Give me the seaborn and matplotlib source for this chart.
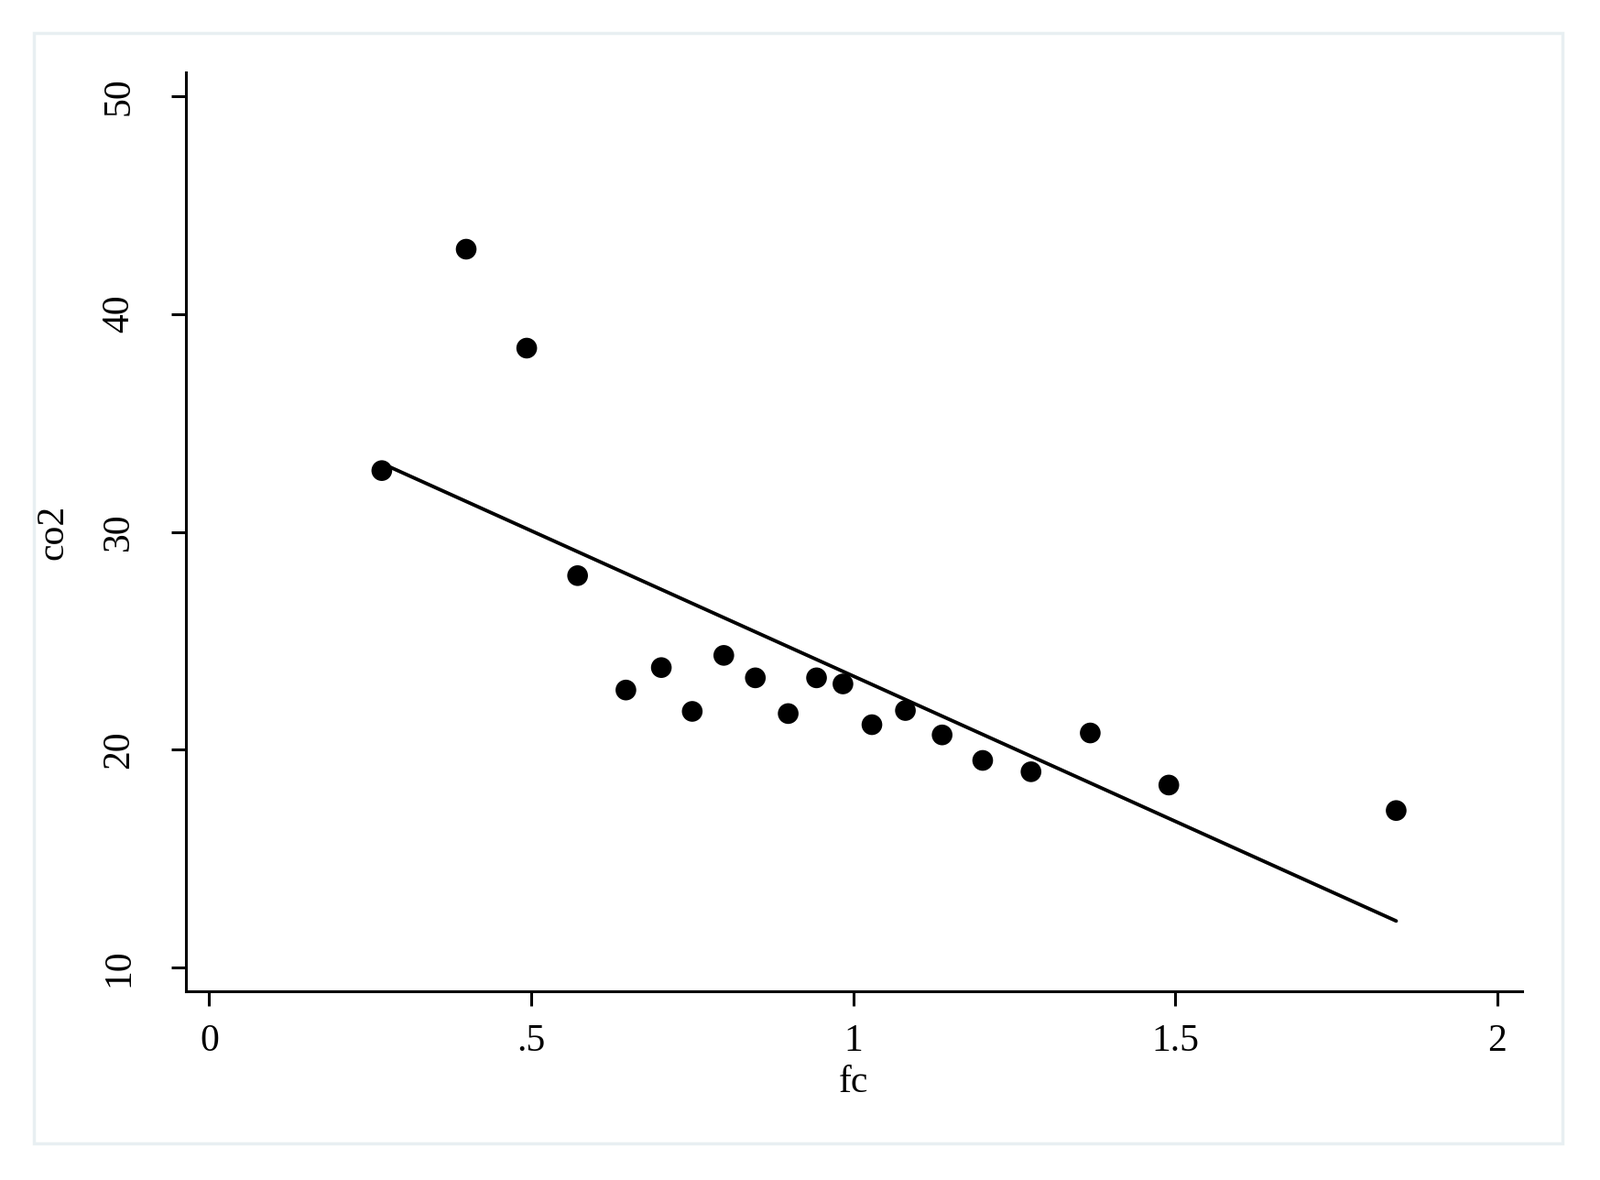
import matplotlib
matplotlib.use("Agg")
import matplotlib.pyplot as plt
import seaborn as sns
import pandas as pd
from matplotlib.patches import Rectangle

# values
fc = [0.268, 0.399, 0.493, 0.572, 0.647, 0.702, 0.750, 0.799, 0.848, 0.899,
      0.943, 0.984, 1.029, 1.081, 1.138, 1.201, 1.276, 1.368, 1.490, 1.843]
co2 = [32.81, 42.97, 38.43, 27.99, 22.74, 23.77, 21.76, 24.33, 23.30, 21.66,
       23.30, 23.02, 21.15, 21.80, 20.68, 19.51, 18.99, 20.77, 18.38, 17.21]

x_ticks = [0, 0.5, 1, 1.5, 2]
x_labels = ["0", ".5", "1", "1.5", "2"]
y_ticks = [10, 20, 30, 40, 50]
y_labels = ["10", "20", "30", "40", "50"]

df = pd.DataFrame({"fc": fc, "co2": co2})

sns.set_style("ticks")
plt.rcParams['font.family'] = ['Liberation Serif', 'DejaVu Serif']
plt.rcParams['text.color'] = 'black'
plt.rcParams['axes.labelcolor'] = 'black'
plt.rcParams['xtick.color'] = 'black'
plt.rcParams['ytick.color'] = 'black'

fig = plt.figure(figsize=(17.47, 12.88), dpi=100)
ax = fig.add_axes([0.1161, 0.1600, 0.8350, 0.7786])

sns.regplot(data=df, x="fc", y="co2", ci=None, ax=ax,
            scatter_kws={"s": 265, "color": "black", "edgecolor": "none", "alpha": 1},
            line_kws={"color": "black", "linewidth": 2.8})

ax.set_xlim(-0.0364, 2.038)
ax.set_ylim(8.92, 51.08)
ax.set_xticks(x_ticks)
ax.set_xticklabels(x_labels)
ax.set_yticks(y_ticks)
ax.set_yticklabels(y_labels, rotation=90, va="center")

for side in ["top", "right"]:
    ax.spines[side].set_visible(False)
for side in ["left", "bottom"]:
    ax.spines[side].set_linewidth(2.2)
    ax.spines[side].set_color("black")

ax.tick_params(axis="both", length=11.5, width=2.2, colors="black", labelsize=30)
ax.tick_params(axis="x", pad=14)
ax.tick_params(axis="y", pad=27)
ax.set_xlabel("fc", fontsize=30, labelpad=5)
ax.set_ylabel("co2", fontsize=30, labelpad=24)

# light outer frame like the stata graph region
fig.patches.append(Rectangle((37 / 1747, 1 - 1248 / 1288), (1706 - 37) / 1747, (1248 - 36) / 1288,
                             transform=fig.transFigure, fill=False,
                             edgecolor="#e8eff2", linewidth=2.5))

fig.savefig("out.png", dpi=100)
